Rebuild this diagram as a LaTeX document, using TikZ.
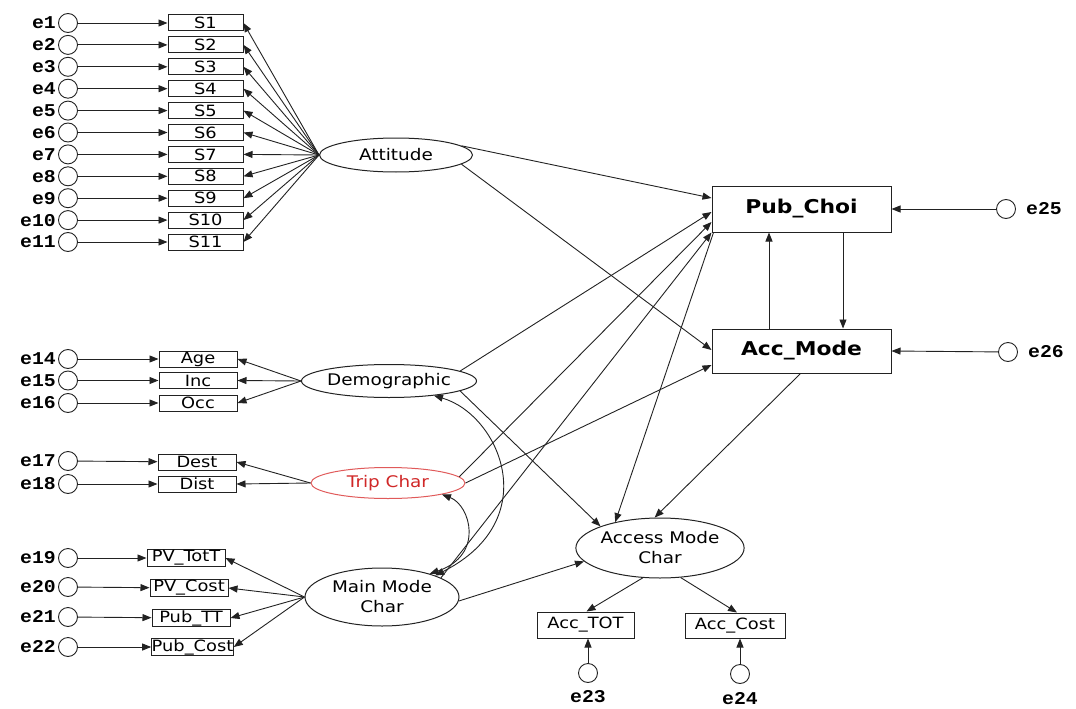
\documentclass[tikz,border=0pt]{standalone}
\usepackage{fontspec}
\setmainfont{DejaVu Sans}
\newfontfamily\lab[FakeStretch=1.15]{DejaVu Sans}
\newfontfamily\emono[FakeStretch=1.1]{Liberation Mono}
\usetikzlibrary{arrows.meta,shapes.geometric,calc}
\definecolor{tripred}{HTML}{D02828}
\definecolor{tripborder}{HTML}{E05A5A}
\definecolor{ink}{HTML}{222222}
\begin{document}
\begin{tikzpicture}[x=1pt,y=-1pt,
  lat/.style={draw=ink, ellipse, line width=1pt, inner sep=0pt, font=\lab\fontsize{16}{20}\selectfont, align=center},
  obs/.style={draw=ink, rectangle, line width=1pt, inner sep=0pt, minimum width=78pt, minimum height=16pt, font=\lab\fontsize{15.5}{16}\selectfont},
  big/.style={draw=ink, rectangle, line width=1pt, inner sep=0pt, minimum width=179pt, font=\lab\bfseries\fontsize{19}{20}\selectfont},
  err/.style={draw=ink, circle, minimum size=19pt, inner sep=0pt, line width=0.9pt},
  elab/.style={font=\emono\bfseries\fontsize{18}{18}\selectfont, inner sep=0pt},
  arr/.style={draw=ink, -{Triangle[length=9pt,width=7pt]}, line width=0.9pt},
  darr/.style={draw=ink, {Triangle[length=9pt,width=7pt]}-{Triangle[length=9pt,width=7pt]}, line width=0.9pt}
]
\useasboundingbox (0,0) rectangle (1076,709);

% ---------------- Attitude block
\node[lat, minimum width=153pt, minimum height=34pt] (att) at (396,155) {Attitude};
\foreach \i in {1,...,11} {
  \pgfmathsetmacro\yy{23+(\i-1)*21.9}
  \node[err] (e\i) at (68,\yy) {};
  \node[elab, anchor=east] (le\i) at (56,\yy) {e\i};
  \node[obs, minimum width=75pt] (s\i) at (205.5,\yy) {S\i};
  \draw[arr] (e\i) -- (s\i);
  \draw[arr] (att.west) -- (s\i.east);
}

% ---------------- Demographic block
\node[lat, minimum width=152pt, minimum height=33pt] (dem) at (389,381) {Demographic};
\node[obs] (age) at (198,359) {Age};
\node[obs] (inc) at (198,380.5) {Inc};
\node[obs] (occ) at (198,403) {Occ};
\node[err] (e14) at (68,359) {};
\node[err] (e15) at (68,380.5) {};
\node[err] (e16) at (68,403) {};
\node[elab, anchor=east] (le14) at (56,359) {e14};
\node[elab, anchor=east] (le15) at (56,380.5) {e15};
\node[elab, anchor=east] (le16) at (56,403) {e16};
\foreach \a/\b in {e14/age,e15/inc,e16/occ} {
  \draw[arr] (\a) -- (\b);
  \draw[arr] (dem.west) -- (\b.east);
}

% ---------------- Trip Char block
\node[lat, draw=tripborder, text=tripred, minimum width=154pt, minimum height=31pt] (tc) at (388,483) {Trip Char};
\node[obs] (dest) at (197,462) {Dest};
\node[obs] (dist) at (197,484) {Dist};
\node[err] (e17) at (68,461) {};
\node[err] (e18) at (68,484) {};
\node[elab, anchor=east] (le17) at (56,461) {e17};
\node[elab, anchor=east] (le18) at (56,484) {e18};
\foreach \a/\b in {e17/dest,e18/dist} {
  \draw[arr] (\a) -- (\b);
  \draw[arr] (tc.west) -- (\b.east);
}

% ---------------- Main Mode Char block
\node[lat, minimum width=154pt, minimum height=58pt] (mm) at (382,597) {Main Mode\\Char};
\node[obs, minimum height=17pt] (pvt) at (186,558) {PV\_TotT};
\node[obs, minimum height=17pt] (pvc) at (189,588) {PV\_Cost};
\node[obs, minimum height=17pt] (ptt) at (191,618) {Pub\_TT};
\node[obs, minimum height=17pt] (pco) at (192.5,647) {Pub\_Cost};
\node[err] (e19) at (68,558) {};
\node[err] (e20) at (68,587) {};
\node[err] (e21) at (68,617) {};
\node[err] (e22) at (68,647) {};
\node[elab, anchor=east] (le19) at (56,558) {e19};
\node[elab, anchor=east] (le20) at (56,587) {e20};
\node[elab, anchor=east] (le21) at (56,617) {e21};
\node[elab, anchor=east] (le22) at (56,647) {e22};
\foreach \a/\b in {e19/pvt,e20/pvc,e21/ptt,e22/pco} {
  \draw[arr] (\a) -- (\b);
  \draw[arr] (mm.west) -- (\b.east);
}

% ---------------- Access Mode Char block
\node[lat, minimum width=154pt, minimum height=60pt] (amc) at (660,548) {Access Mode\\Char};
\node[obs, minimum width=97pt, minimum height=26pt] (atot) at (585.5,625) {Acc\_TOT};
\node[obs, minimum width=100pt, minimum height=25pt] (acost) at (735,625.5) {Acc\_Cost};
\node[err] (e23) at (588,673) {};
\node[err] (e24) at (740,674) {};
\node[elab] (le23) at (588,697) {e23};
\node[elab] (le24) at (740,699) {e24};
\draw[arr] (e23) -- (e23 |- atot.south);
\draw[arr] (e24) -- (e24 |- acost.south);
\draw[arr] (amc.240) -- ([xshift=1pt]atot.north);
\draw[arr] (amc.-55) -- ([xshift=2pt]acost.north);

% ---------------- Endogenous boxes
\node[big, minimum height=46pt] (pc) at (801.5,209) {Pub\_Choi};
\node[big, minimum height=44pt] (am) at (801.5,351) {Acc\_Mode};
\node[err] (e25) at (1006,209) {};
\node[err] (e26) at (1008,352) {};
\node[elab, anchor=west] (le25) at (1026,209) {e25};
\node[elab, anchor=west] (le26) at (1028,352) {e26};
\draw[arr] (e25) -- (pc.east);
\draw[arr] (e26) -- (am.east);
\draw[arr] ([xshift=-32.5pt]am.north) -- ([xshift=-32.5pt]pc.south);
\draw[arr] ([xshift=41.5pt]pc.south) -- ([xshift=41.5pt]am.north);

% ---------------- structural paths
\draw[arr] (att.8) -- ([yshift=11pt]pc.west);
\draw[arr] (att.-8) -- ([yshift=1pt]am.west);
\draw[arr] (dem.8) -- ([yshift=-3pt]pc.west);
\draw[arr] (dem.-8) -- (amc.160);
\draw[arr] (tc.5) -- ([yshift=-13pt]pc.west);
\draw[arr] (tc.0) -- ([yshift=-14pt]am.west);
\draw[arr] (mm.18) -- (pc.south west);
\draw[arr] (mm.-3) -- (amc.190);
\draw[arr] ([xshift=2pt]pc.south west) -- (amc.150);
\draw[arr] ([xshift=-1pt]am.south) -- (amc.100);

% ---------------- covariances
\draw[darr] (dem.-18) .. controls (500,415) and (545,520) .. (mm.22);
\draw[darr] (tc.-12) .. controls (470,505) and (485,555) .. (mm.26);
\end{tikzpicture}
\end{document}
